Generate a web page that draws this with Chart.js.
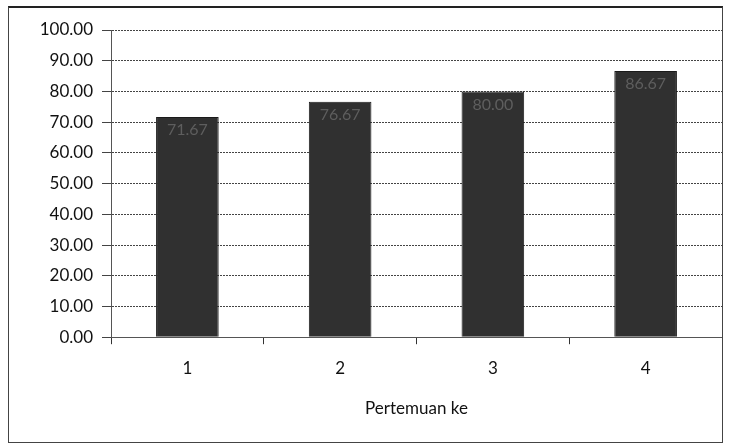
<!DOCTYPE html>
<html>
<head>
<meta charset="utf-8">
<script src="https://cdn.jsdelivr.net/npm/chart.js@4"></script>
<style>
  body { margin: 0; background: #fff; }
  #box {
    position: absolute; left: 8px; top: 6px; width: 713px; height: 434px;
    border: 1px solid #444; border-top: 2px solid #222; background: #fff;
  }
</style>
</head>
<body>
<div id="box"><canvas id="chart"></canvas></div>
<script>
const categories = ["1", "2", "3", "4"];
const scores = [71.67, 76.67, 80.00, 86.67];
const yTicks = [0, 10, 20, 30, 40, 50, 60, 70, 80, 90, 100];

const labelFont = "Lato, 'Open Sans', sans-serif";

// value labels inside the top of each bar
const barLabels = {
  id: "barLabels",
  afterDatasetsDraw(chart) {
    const ctx = chart.ctx;
    const meta = chart.getDatasetMeta(0);
    ctx.save();
    ctx.font = "16px " + labelFont;
    ctx.fillStyle = "#5e5e5e";
    ctx.textAlign = "center";
    ctx.textBaseline = "top";
    meta.data.forEach((bar, i) => {
      ctx.fillText(scores[i].toFixed(2), bar.x, bar.y + 5);
    });
    ctx.restore();
  },
};

new Chart(document.getElementById("chart"), {
  type: "bar",
  data: {
    labels: categories,
    datasets: [{
      data: scores,
      backgroundColor: "#303030",
      borderColor: "#1a1a1a",
      borderWidth: 1,
      categoryPercentage: 0.82,
      barPercentage: 0.5,
    }],
  },
  options: {
    responsive: true,
    maintainAspectRatio: false,
    animation: false,
    layout: { padding: { top: 22, right: 0, bottom: 19, left: 0 } },
    plugins: { legend: { display: false }, tooltip: { enabled: false } },
    scales: {
      x: {
        grid: { display: true, offset: true, drawOnChartArea: false, color: "#333", tickLength: 7 },
        border: { color: "#555", dash: [2, 1] },
        ticks: { color: "#111", font: { size: 17, family: labelFont }, padding: 14 },
        title: {
          display: true, text: "Pertemuan ke", color: "#111",
          font: { size: 17, family: labelFont }, padding: { top: 6 },
        },
      },
      y: {
        min: 0,
        max: 100,
        afterFit(scale) { scale.width = 102; },
        afterBuildTicks(scale) { scale.ticks = yTicks.map((v) => ({ value: v })); },
        grid: { color: "#444", tickLength: 9 },
        border: { color: "#555", dash: [2, 1] },
        ticks: {
          color: "#111",
          font: { size: 17, family: labelFont },
          padding: 9,
          callback: (v) => Number(v).toFixed(2),
        },
      },
    },
  },
  plugins: [barLabels],
});
</script>
</body>
</html>
